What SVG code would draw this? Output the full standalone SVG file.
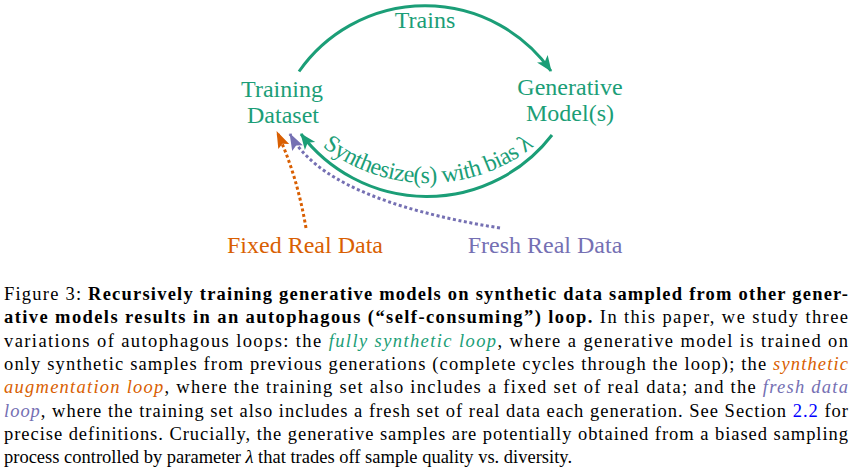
<svg xmlns="http://www.w3.org/2000/svg" width="855" height="474" viewBox="0 0 855 474">
<style>
.lbl{font-family:"Liberation Serif","Times New Roman",serif;font-size:24px;fill:#1b9e77}
.cap{font-family:"Liberation Serif","Times New Roman",serif;font-size:18.5px;fill:#000}
.b{font-weight:bold}
.i{font-style:italic}
.teal{fill:#1b9e77}
.org{fill:#d95f02}
.pur{fill:#7570b3}
.blue{fill:#0000ff}
</style>
<defs>
<marker id="ah-teal" viewBox="-17 -8 19 16" refX="0" refY="0" markerWidth="19" markerHeight="16" markerUnits="userSpaceOnUse" orient="auto">
<path d="M1,0 L-15,-6.5 L-11,0 L-15,6.5 Z" fill="#1b9e77"/>
</marker>
<marker id="ah-org" viewBox="-18 -8 20 16" refX="0" refY="0" markerWidth="20" markerHeight="16" markerUnits="userSpaceOnUse" orient="auto">
<path d="M1,0 L-16,-6 L-13,0 L-16,6 Z" fill="#d95f02"/>
</marker>
<marker id="ah-pur" viewBox="-18 -8 20 16" refX="0" refY="0" markerWidth="20" markerHeight="16" markerUnits="userSpaceOnUse" orient="auto">
<path d="M1,0 L-16,-6 L-13,0 L-16,6 Z" fill="#7570b3"/>
</marker>
<path id="synpath" d="M 259.6 41.7 A 171 171 0 0 0 596.4 41.7"/>
</defs>

<g id="connectors" fill="none">
<path id="trains" d="M 299 71.5 A 154 154 0 0 1 551 71" stroke="#1b9e77" stroke-width="3" marker-end="url(#ah-teal)"/>
<path id="synth" d="M 552 135 A 158 158 0 0 1 301 134" stroke="#1b9e77" stroke-width="3" marker-end="url(#ah-teal)"/>
<path id="fixed" d="M 306 228 Q 297 175 277 132" stroke="#d95f02" stroke-width="3" stroke-dasharray="3 2.6" marker-end="url(#ah-org)"/>
<path id="fresh" d="M 500 228 Q 325 200 290 134" stroke="#7570b3" stroke-width="3" stroke-dasharray="3 2.6" marker-end="url(#ah-pur)"/>
<text class="lbl" font-size="22.5" x="425" y="28" text-anchor="middle">Trains</text>
<text class="lbl" font-size="20" letter-spacing="-0.5"><textPath href="#synpath" startOffset="50%" text-anchor="middle">Synthesize(s) with bias λ</textPath></text>
</g>

<g id="training-dataset">
<text class="lbl" x="282" y="97" text-anchor="middle">Training</text>
<text class="lbl" x="283" y="123" text-anchor="middle">Dataset</text>
</g>
<g id="generative-models">
<text class="lbl" x="570" y="95" text-anchor="middle">Generative</text>
<text class="lbl" x="570" y="121" text-anchor="middle">Model(s)</text>
</g>
<g id="fixed-real-data">
<text class="lbl org" x="305" y="253" text-anchor="middle">Fixed Real Data</text>
</g>
<g id="fresh-real-data">
<text class="lbl pur" x="545" y="253" text-anchor="middle">Fresh Real Data</text>
</g>

<g id="caption">
<text class="cap" x="4" y="300" textLength="844" lengthAdjust="spacing">Figure 3: <tspan class="b">Recursively training generative models on synthetic data sampled from other gener-</tspan></text>
<text class="cap" x="4" y="323.3" textLength="844" lengthAdjust="spacing"><tspan class="b">ative models results in an autophagous (“self-consuming”) loop.</tspan> In this paper, we study three</text>
<text class="cap" x="4" y="346.6" textLength="844" lengthAdjust="spacing">variations of autophagous loops: the <tspan class="i teal">fully synthetic loop</tspan>, where a generative model is trained on</text>
<text class="cap" x="4" y="369.9" textLength="844" lengthAdjust="spacing">only synthetic samples from previous generations (complete cycles through the loop); the <tspan class="i org">synthetic</tspan></text>
<text class="cap" x="4" y="393.2" textLength="844" lengthAdjust="spacing"><tspan class="i org">augmentation loop</tspan>, where the training set also includes a fixed set of real data; and the <tspan class="i pur">fresh data</tspan></text>
<text class="cap" x="4" y="416.5" textLength="844" lengthAdjust="spacing"><tspan class="i pur">loop</tspan>, where the training set also includes a fresh set of real data each generation. See Section <tspan class="blue">2.2</tspan> for</text>
<text class="cap" x="4" y="439.8" textLength="844" lengthAdjust="spacing">precise definitions. Crucially, the generative samples are potentially obtained from a biased sampling</text>
<text class="cap" x="4" y="463">process controlled by parameter <tspan class="i">λ</tspan> that trades off sample quality vs. diversity.</text>
</g>
</svg>
